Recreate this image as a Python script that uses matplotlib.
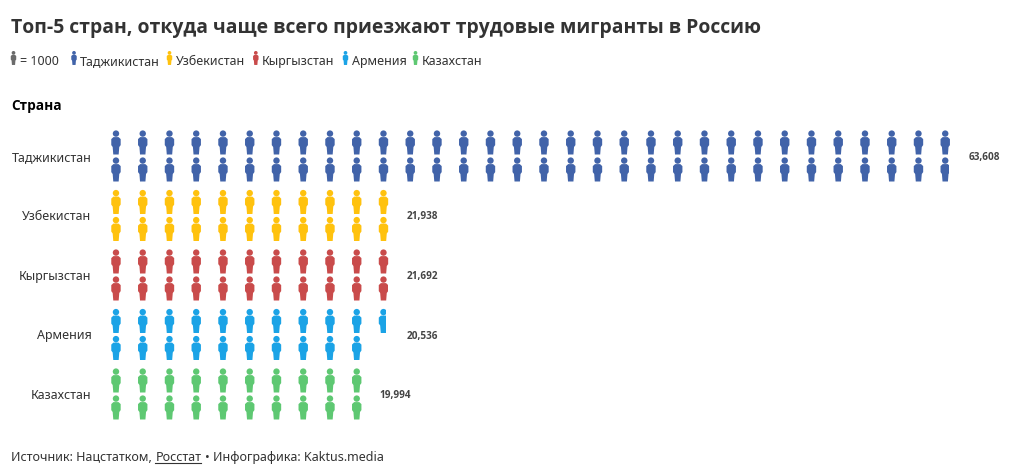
import matplotlib
matplotlib.use('Agg')
import matplotlib.pyplot as plt
from matplotlib.path import Path
from matplotlib.patches import PathPatch, Rectangle
from matplotlib.transforms import Affine2D
from matplotlib.lines import Line2D

countries = ['Таджикистан', 'Узбекистан', 'Кыргызстан', 'Армения', 'Казахстан']
values = [63608, 21938, 21692, 20536, 19994]
value_labels = ['63,608', '21,938', '21,692', '20,536', '19,994']
colors = ['#4163a9', '#ffc20e', '#c94b4b', '#1ba3e6', '#5ec872']
unit = 1000

W, H = 1020, 475
COL_PX = 26.75
ROW_PX = 59.5
FONT = ['Noto Sans', 'DejaVu Sans']
BOLD = ['Open Sans', 'DejaVu Sans']
TEXT = '#333333'

plt.rcParams['font.family'] = FONT


def px(x, y):
    return x / W, 1 - y / H


# person icon, 10 x 24 px, y goes down
body = Path([(-2.6, -5.4), (2.6, -5.4), (4.7, -3.4), (4.7, 2.6), (3.3, 4.5), (2.7, 12.0),
             (-2.7, 12.0), (-3.3, 4.5), (-4.7, 2.6), (-4.7, -3.4), (-2.6, -5.4)], closed=True)
head = Path.circle((0, -8.9), 3.2)
person = Path.make_compound_path(head, body)

fig = plt.figure(figsize=(W / 100, H / 100), dpi=100)
ax = fig.add_axes([102.6 / W, 1 - 423.75 / H, 33.5 * COL_PX / W, 5 * ROW_PX / H])
ax.set_xlim(-0.5, 33)
ax.set_ylim(4.5, -0.5)
for s in ax.spines.values():
    s.set_visible(False)
ax.set_xticks([])
ax.set_yticks(range(len(countries)))
ax.set_yticklabels(countries, fontsize=9, color=TEXT, va='center_baseline')
ax.tick_params(axis='y', length=0, pad=8)

for row, (v, c) in enumerate(zip(values, colors)):
    n = v / unit
    i = 0
    while i < n:
        col = i // 2
        y = row + (-13.5 if i % 2 == 0 else 13.5) / ROW_PX
        tr = Affine2D().scale(1 / COL_PX, 1 / ROW_PX).translate(col, y) + ax.transData
        p = PathPatch(person, facecolor=c, edgecolor='none', transform=tr)
        ax.add_patch(p)
        frac = min(n - i, 1)
        if frac < 1:
            # the cut runs over a box wider than the figure, so .7 and up looks whole
            right = 18 * frac - 7.6
            p.set_clip_path(Rectangle((-5, -13), right + 5, 26, transform=tr))
        i += 1
    last_col = (int(n) if n == int(n) else int(n) + 1) - 1
    ax.annotate(value_labels[row], (last_col // 2, row), xytext=(23 * 0.72, 0), textcoords='offset points',
                fontsize=7.2, fontweight='bold', family=BOLD, color='#444444', va='center_baseline', ha='left')

# title and header
fig.text(*px(11, 32.5), 'Топ-5 стран, откуда чаще всего приезжают трудовые мигранты в Россию',
         fontsize=13.95, fontweight='bold', family=BOLD, color=TEXT, va='baseline', ha='left')
fig.text(*px(11, 110), 'Страна', fontsize=9.8, fontweight='bold', family=BOLD, color='black', va='baseline', ha='left')

# legend row
legend_icons = [13.5, 74, 169.5, 255.8, 345.5, 415.5]
legend_text_x = [19.5, 80, 176, 262, 352, 422]
legend_colors = ['#6b6b6b'] + colors
legend_texts = ['= 1000'] + countries
for x, tx, c, s in zip(legend_icons, legend_text_x, legend_colors, legend_texts):
    tr = Affine2D().scale(0.58, -0.58).translate(x, H - 58)
    fig.add_artist(PathPatch(person, facecolor=c, edgecolor='none', transform=tr))
    fig.text(*px(tx, 64.7), s, fontsize=9, color=TEXT, va='baseline', ha='left')

# source line, Росстат is underlined
fig.canvas.draw()
r = fig.canvas.get_renderer()
x = 11
for s, under in [('Источник: Нацстатком,', False), ('Росстат', True), ('• Инфографика: Kaktus.media', False)]:
    txt = fig.text(*px(x, 461), s, fontsize=9, color=TEXT, va='baseline', ha='left')
    e = txt.get_window_extent(r)
    if under:
        fig.add_artist(Line2D([e.x0 / W, e.x1 / W], [1 - 463 / H] * 2, color=TEXT, lw=0.8))
    x = e.x1 + 3.5

fig.savefig('out.png', dpi=100, facecolor='white')
